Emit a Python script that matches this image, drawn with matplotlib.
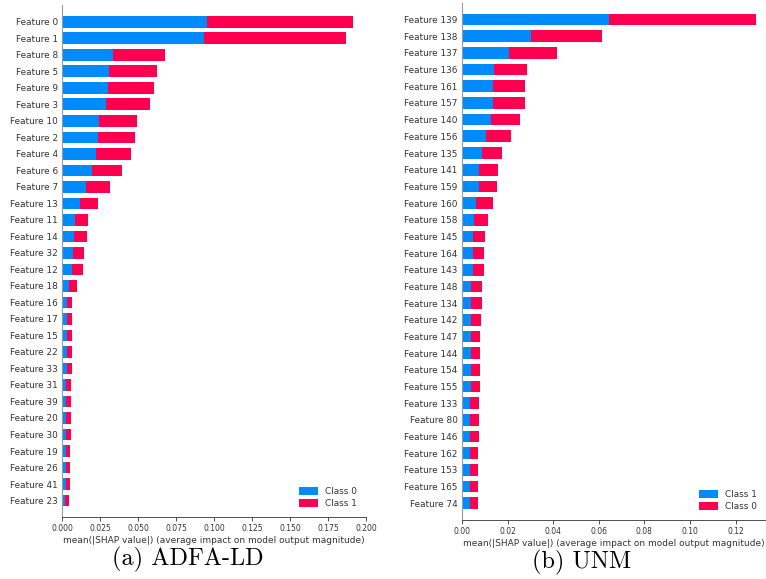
import matplotlib
matplotlib.use("Agg")
import matplotlib.pyplot as plt
import numpy as np

# mean |SHAP| per feature, ADFA-LD model
adfa_features = ["Feature 0", "Feature 1", "Feature 8", "Feature 5", "Feature 9", "Feature 3",
                 "Feature 10", "Feature 2", "Feature 4", "Feature 6", "Feature 7", "Feature 13",
                 "Feature 11", "Feature 14", "Feature 32", "Feature 12", "Feature 18", "Feature 16",
                 "Feature 17", "Feature 15", "Feature 22", "Feature 33", "Feature 31", "Feature 39",
                 "Feature 20", "Feature 30", "Feature 19", "Feature 26", "Feature 41", "Feature 23"]
adfa_class0 = [0.0954, 0.0932, 0.0336, 0.0309, 0.0300, 0.0287, 0.0243, 0.0235, 0.0224, 0.0197,
               0.0158, 0.0118, 0.0086, 0.0079, 0.0072, 0.0066, 0.0046, 0.0033, 0.0033, 0.0033,
               0.0033, 0.0033, 0.0026, 0.0026, 0.0026, 0.0026, 0.0026, 0.0026, 0.0026, 0.0020]
adfa_class1 = [0.0960, 0.0936, 0.0342, 0.0316, 0.0305, 0.0292, 0.0250, 0.0245, 0.0230, 0.0198,
               0.0158, 0.0119, 0.0085, 0.0085, 0.0073, 0.0072, 0.0053, 0.0033, 0.0033, 0.0033,
               0.0033, 0.0033, 0.0033, 0.0033, 0.0033, 0.0033, 0.0027, 0.0027, 0.0027, 0.0026]

# mean |SHAP| per feature, UNM model
unm_features = ["Feature 139", "Feature 138", "Feature 137", "Feature 136", "Feature 161",
                "Feature 157", "Feature 140", "Feature 156", "Feature 135", "Feature 141",
                "Feature 159", "Feature 160", "Feature 158", "Feature 145", "Feature 164",
                "Feature 143", "Feature 148", "Feature 134", "Feature 142", "Feature 147",
                "Feature 144", "Feature 154", "Feature 155", "Feature 133", "Feature 80",
                "Feature 146", "Feature 162", "Feature 153", "Feature 165", "Feature 74"]
unm_class1 = [0.0644, 0.0305, 0.0205, 0.0139, 0.0135, 0.0135, 0.0126, 0.0104, 0.0086, 0.0077,
              0.0073, 0.0064, 0.0055, 0.0047, 0.0047, 0.0047, 0.0042, 0.0042, 0.0038, 0.0038,
              0.0038, 0.0038, 0.0038, 0.0034, 0.0034, 0.0034, 0.0034, 0.0034, 0.0034, 0.0034]
unm_class0 = [0.0644, 0.0307, 0.0210, 0.0145, 0.0141, 0.0141, 0.0128, 0.0110, 0.0089, 0.0081,
              0.0080, 0.0071, 0.0058, 0.0053, 0.0049, 0.0049, 0.0045, 0.0045, 0.0045, 0.0040,
              0.0040, 0.0040, 0.0040, 0.0040, 0.0040, 0.0040, 0.0036, 0.0036, 0.0036, 0.0036]

BLUE = "#008bfb"
RED = "#ff0051"
TXT = "#333333"
FS = 6.4


def shap_bars(ax, names, first, second, labels, xmax, ticks, ticklabels):
    y = np.arange(len(names))
    first = np.array(first)
    second = np.array(second)
    ax.barh(y, first, height=0.7, color=BLUE, label=labels[0], linewidth=0)
    ax.barh(y, second, left=first, height=0.7, color=RED, label=labels[1], linewidth=0)
    ax.set_yticks(y)
    ax.set_yticklabels(names, fontsize=FS, color=TXT)
    ax.set_ylim(len(names), -1)
    ax.set_xlim(0, xmax)
    ax.set_xticks(ticks)
    ax.set_xticklabels(ticklabels, fontsize=5.5, color=TXT)
    ax.tick_params(axis="y", length=0, pad=3)
    ax.tick_params(axis="x", length=3, width=0.6, color=TXT, pad=2)
    for s in ("top", "right"):
        ax.spines[s].set_visible(False)
    ax.spines["left"].set_color("#999999")
    ax.spines["left"].set_linewidth(0.8)
    ax.spines["bottom"].set_color(TXT)
    ax.spines["bottom"].set_linewidth(0.6)
    ax.set_xlabel("mean(|SHAP value|) (average impact on model output magnitude)",
                  fontsize=FS + 0.1, color=TXT, labelpad=2)
    leg = ax.legend(loc="lower right", frameon=False, fontsize=FS,
                    handlelength=2.2, handleheight=0.9, borderaxespad=0.6, labelspacing=0.35)
    for t in leg.get_texts():
        t.set_color(TXT)


fig = plt.figure(figsize=(7.66, 5.79), dpi=100, facecolor="white")

ax1 = fig.add_axes([0.081, 0.107, 0.397, 0.884])
shap_bars(ax1, adfa_features, adfa_class0, adfa_class1, ["Class 0", "Class 1"], 0.2,
          np.arange(0, 0.2001, 0.025), [f"{v:.3f}" for v in np.arange(0, 0.2001, 0.025)])

ax2 = fig.add_axes([0.603, 0.102, 0.397, 0.893])
shap_bars(ax2, unm_features, unm_class1, unm_class0, ["Class 1", "Class 0"], 0.1333,
          np.arange(0, 0.1201, 0.02), [f"{v:.2f}" for v in np.arange(0, 0.1201, 0.02)])

fig.text(0.2454, 0.033, "(a) ADFA-LD", family="cmr10", fontsize=17.5, ha="center", va="center")
fig.text(0.759, 0.029, "(b) UNM", family="cmr10", fontsize=17.5, ha="center", va="center")

fig.savefig("out.png", dpi=100, facecolor="white")
